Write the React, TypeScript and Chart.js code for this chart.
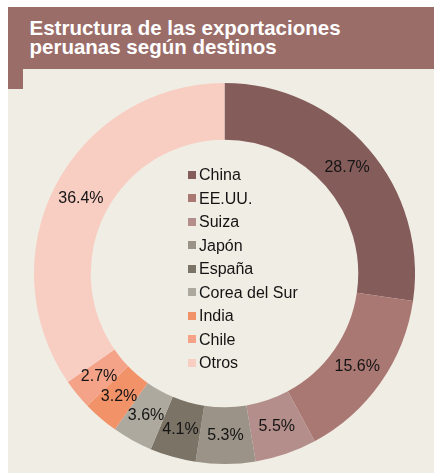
import React, { useEffect, useRef } from "react";
import { Chart, registerables } from "chart.js";

Chart.register(...registerables);

const TITLE_LINES = ["Estructura de las exportaciones", "peruanas según destinos"];
const CATEGORIES = ["China", "EE.UU.", "Suiza", "Japón", "España", "Corea del Sur", "India", "Chile", "Otros"];
const VALUES = [28.7, 15.6, 5.5, 5.3, 4.1, 3.6, 3.2, 2.7, 36.4];
const COLORS = ["#845D5B", "#AA7873", "#B48E8B", "#9B9387", "#7A7366", "#ADA99E", "#F29268", "#F4A389", "#F8CDC2"];

const FONT = '"Liberation Sans", Arial, Helvetica, sans-serif';

const labelPlugin = {
  id: "sliceLabels",
  afterDatasetsDraw(chart: any) {
    const ctx = chart.ctx;
    const meta = chart.getDatasetMeta(0);
    const data = chart.data.datasets[0].data as number[];
    ctx.save();
    ctx.font = `16px ${FONT}`;
    ctx.fillStyle = "#141414";
    ctx.textAlign = "center";
    ctx.textBaseline = "middle";
    meta.data.forEach((arc: any, i: number) => {
      const p = arc.tooltipPosition();
      ctx.fillText(data[i].toFixed(1) + "%", p.x, p.y);
    });
    ctx.restore();
  },
};

export default function App() {
  const canvasRef = useRef<HTMLCanvasElement | null>(null);

  useEffect(() => {
    if (!canvasRef.current) return;
    const chart = new Chart(canvasRef.current, {
      type: "doughnut",
      data: {
        labels: CATEGORIES,
        datasets: [
          {
            data: VALUES,
            backgroundColor: COLORS,
            borderWidth: 0,
          },
        ],
      },
      options: {
        animation: false,
        responsive: false,
        maintainAspectRatio: false,
        cutout: "70.2%",
        layout: { padding: 0 },
        plugins: {
          legend: { display: false },
          tooltip: { enabled: false },
        },
      },
      plugins: [labelPlugin],
    });
    return () => chart.destroy();
  }, []);

  return (
    <div style={{ position: "absolute", left: 0, top: 0, width: 434, height: 473, background: "#ffffff", overflow: "hidden", fontFamily: FONT }}>
      <div style={{ position: "absolute", left: 8, top: 69, width: 426, height: 404, background: "#F0EDE4" }} />
      <div style={{ position: "absolute", left: 8, top: 7, width: 426, height: 62, background: "#9B6D69" }} />
      <div style={{ position: "absolute", left: 8, top: 69, width: 15, height: 20, background: "#9B6D69" }} />
      <div style={{ position: "absolute", left: 29.5, top: 19.3, color: "#ffffff", fontWeight: "bold", fontSize: 20.5, lineHeight: "18.5px", whiteSpace: "nowrap" }}>
        {TITLE_LINES.map((l, i) => (
          <div key={i}>{l}</div>
        ))}
      </div>
      <canvas ref={canvasRef} width={381} height={381} style={{ position: "absolute", left: 34, top: 83, width: 381, height: 381 }} />
      {CATEGORIES.map((c, i) => (
        <div key={c} style={{ position: "absolute", left: 187.5, top: 163.4 + i * 23.5, height: 23.5, display: "flex", alignItems: "center", whiteSpace: "nowrap" }}>
          <div style={{ width: 8, height: 8, background: COLORS[i], marginRight: 3.5, marginTop: -1 }} />
          <span style={{ fontSize: 16, lineHeight: "23.5px", color: "#141414" }}>{c}</span>
        </div>
      ))}
    </div>
  );
}
